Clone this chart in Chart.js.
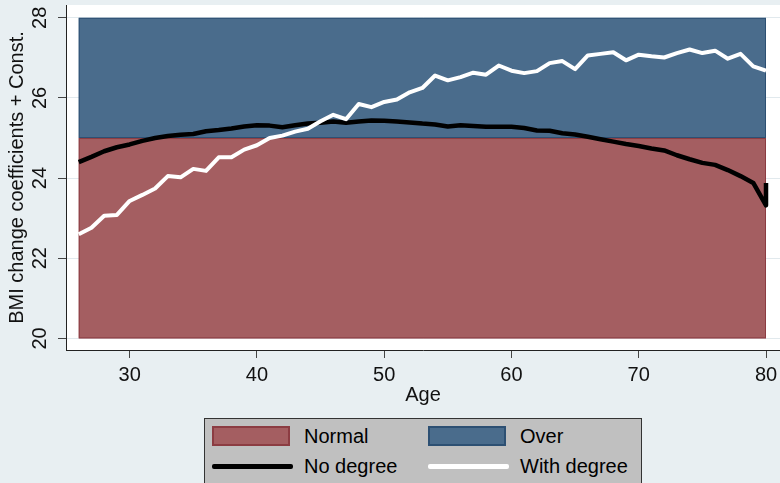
<!DOCTYPE html>
<html>
<head>
<meta charset="utf-8">
<script src="https://cdn.jsdelivr.net/npm/chart.js@4.4.1/dist/chart.umd.min.js"></script>
<style>
  html, body { margin: 0; padding: 0; background: #e8eff2; }
  #wrap { position: relative; width: 780px; height: 483px; overflow: hidden; }
  #legend {
    position: absolute; left: 204px; top: 418px; width: 436px; height: 80px;
    background: #c0c0c0; border: 1px solid #333;
    font: 20px "Liberation Sans", Arial, sans-serif; color: #000;
  }
  #legend .sw { position: absolute; width: 74px; height: 16px; border: 2px solid; }
  #legend .ln { position: absolute; width: 81px; height: 5px; border-radius: 2px; }
  #legend .tx { position: absolute; line-height: 20px; }
</style>
</head>
<body>
<div id="wrap">
  <canvas id="myChart" width="780" height="483"></canvas>
  <div id="legend"></div>
</div>
<script>
// bands (BMI classes)
const bandNames = ['Normal', 'Over'];
const bandLow = [20, 25];
const bandHigh = [25, 28];
const bandAgeFrom = 26;
const bandAgeTo = 80;
const bandFill = ['#a45e61', '#4a6c8c'];
const bandLine = ['#8c3c42', '#2d5073'];

// series
const ages = [26, 27, 28, 29, 30, 31, 32, 33, 34, 35, 36, 37, 38, 39, 40, 41, 42, 43, 44, 45,
  46, 47, 48, 49, 50, 51, 52, 53, 54, 55, 56, 57, 58, 59, 60, 61, 62, 63, 64, 65,
  66, 67, 68, 69, 70, 71, 72, 73, 74, 75, 76, 77, 78, 79, 80];
const agesNoDegree = [...ages, 80]; // last age appears twice in the data

const noDegree = [24.40, 24.53, 24.67, 24.77, 24.84, 24.93, 25.00, 25.05, 25.08, 25.10,
  25.17, 25.20, 25.24, 25.29, 25.32, 25.31, 25.27, 25.32, 25.36, 25.38,
  25.41, 25.38, 25.41, 25.44, 25.43, 25.41, 25.39, 25.36, 25.34, 25.29,
  25.32, 25.30, 25.28, 25.28, 25.28, 25.25, 25.19, 25.18, 25.12, 25.09,
  25.03, 24.97, 24.91, 24.85, 24.80, 24.74, 24.69, 24.57, 24.47, 24.38,
  24.33, 24.20, 24.05, 23.88, 23.32, 23.88];
const withDegree = [22.60, 22.76, 23.06, 23.08, 23.43, 23.58, 23.74, 24.05, 24.02, 24.23,
  24.18, 24.52, 24.52, 24.71, 24.82, 25.00, 25.06, 25.16, 25.23, 25.42,
  25.58, 25.47, 25.85, 25.77, 25.90, 25.96, 26.14, 26.25, 26.56, 26.44,
  26.52, 26.63, 26.58, 26.81, 26.68, 26.62, 26.67, 26.87, 26.92, 26.72,
  27.06, 27.10, 27.14, 26.94, 27.08, 27.04, 27.01, 27.12, 27.21, 27.12,
  27.18, 26.98, 27.10, 26.79, 26.68];

// axes
const xTicks = [30, 40, 50, 60, 70, 80];
const yTicks = [20, 22, 24, 26, 28];

const fontFamily = '"Liberation Sans", Arial, sans-serif';

// draws the white plot region and the two BMI bands through the scales
const bandPlugin = {
  id: 'bands',
  beforeDraw(chart) {
    const { ctx, chartArea: a } = chart;
    ctx.save();
    ctx.fillStyle = '#e8eff2';
    ctx.fillRect(0, 0, chart.width, chart.height);
    ctx.fillStyle = '#ffffff';
    ctx.fillRect(a.left, a.top, a.right - a.left, a.bottom - a.top);
    ctx.restore();
  },
  beforeDatasetsDraw(chart) {
    const { ctx, scales: { x, y } } = chart;
    ctx.save();
    for (let i = bandLow.length - 1; i >= 0; i--) {
      const left = x.getPixelForValue(bandAgeFrom);
      const right = x.getPixelForValue(bandAgeTo);
      const top = y.getPixelForValue(bandHigh[i]);
      const bottom = y.getPixelForValue(bandLow[i]);
      ctx.fillStyle = bandFill[i];
      ctx.fillRect(left, top, right - left, bottom - top);
      ctx.strokeStyle = bandLine[i];
      ctx.lineWidth = 1;
      ctx.strokeRect(left + 0.5, top + 0.5, right - left - 1, bottom - top - 1);
    }
    ctx.restore();
  }
};

function toPoints(xs, ys) {
  return ys.map((v, i) => ({ x: xs[i], y: v }));
}

// no extra room for overhanging tick labels, the plot runs to the edge
function noEdgePadding(s) {
  s.paddingTop = 0;
  s.paddingBottom = 0;
  s.paddingLeft = 0;
  s.paddingRight = 0;
}

const ctx = document.getElementById('myChart');

new Chart(ctx, {
  type: 'line',
  data: {
    datasets: [
      {
        label: 'With degree',
        data: toPoints(ages, withDegree),
        borderColor: '#ffffff',
        borderWidth: 4,
        pointRadius: 0,
        tension: 0,
        borderJoinStyle: 'round',
        order: 0
      },
      {
        label: 'No degree',
        data: toPoints(agesNoDegree, noDegree),
        borderColor: '#000000',
        borderWidth: 4.5,
        pointRadius: 0,
        tension: 0,
        borderJoinStyle: 'round',
        order: 1
      }
    ]
  },
  options: {
    responsive: false,
    animation: false,
    layout: { padding: { left: 7, top: 5, right: 0, bottom: 78 } },
    plugins: { legend: { display: false }, tooltip: { enabled: false } },
    scales: {
      x: {
        type: 'linear',
        min: 25,
        max: 81.1,
        afterBuildTicks: (s) => { s.ticks = xTicks.map((v) => ({ value: v })); },
        afterFit: noEdgePadding,
        grid: { drawOnChartArea: false, tickLength: 8, tickColor: '#444' },
        border: { color: '#222', width: 1 },
        ticks: { padding: 7, color: '#111', font: { family: fontFamily, size: 20, lineHeight: 1 } },
        title: {
          display: true, text: 'Age', color: '#111',
          font: { family: fontFamily, size: 20, lineHeight: 1 },
          padding: { top: -7, bottom: 0 }
        }
      },
      y: {
        min: 19.71,
        max: 28.32,
        afterBuildTicks: (s) => { s.ticks = yTicks.map((v) => ({ value: v })); },
        afterFit: noEdgePadding,
        grid: { color: '#e1e9ed', tickLength: 8, tickColor: '#444' },
        border: { color: '#222', width: 1 },
        ticks: {
          padding: 6, minRotation: 90, maxRotation: 90, crossAlign: 'center',
          color: '#111', font: { family: fontFamily, size: 20, lineHeight: 1 }
        },
        title: {
          display: true, text: 'BMI change coefficients + Const.', color: '#111',
          font: { family: fontFamily, size: 20, lineHeight: 1 },
          padding: { top: 0, bottom: -1 }
        }
      }
    }
  },
  plugins: [bandPlugin]
});

// legend box under the plot
const legend = document.getElementById('legend');
const legendItems = [
  { kind: 'sw', fill: bandFill[0], line: bandLine[0], text: bandNames[0], col: 0, row: 0 },
  { kind: 'sw', fill: bandFill[1], line: bandLine[1], text: bandNames[1], col: 1, row: 0 },
  { kind: 'ln', fill: '#000000', text: 'No degree', col: 0, row: 1 },
  { kind: 'ln', fill: '#ffffff', text: 'With degree', col: 1, row: 1 }
];
legendItems.forEach((it) => {
  const left = it.col === 0 ? 7 : 223;
  const mid = it.row === 0 ? 17 : 47;
  const mark = document.createElement('div');
  mark.className = it.kind;
  mark.style.left = left + 'px';
  if (it.kind === 'sw') {
    mark.style.top = (mid - 10) + 'px';
    mark.style.background = it.fill;
    mark.style.borderColor = it.line;
  } else {
    mark.style.top = (mid - 2) + 'px';
    mark.style.background = it.fill;
  }
  legend.appendChild(mark);
  const tx = document.createElement('div');
  tx.className = 'tx';
  tx.style.left = (left + 92) + 'px';
  tx.style.top = (mid - 10) + 'px';
  tx.textContent = it.text;
  legend.appendChild(tx);
});
</script>
</body>
</html>
